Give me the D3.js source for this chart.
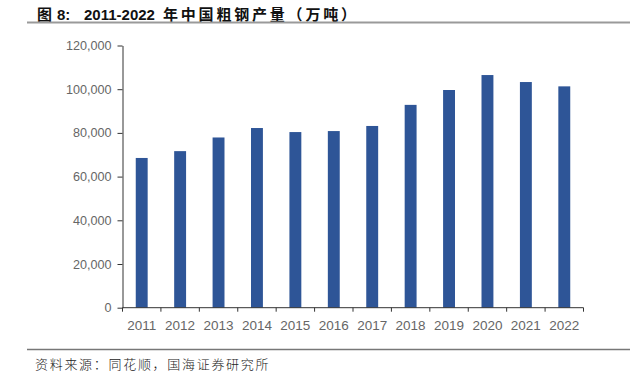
<!DOCTYPE html>
<html>
<head>
<meta charset="utf-8">
<script src="https://cdn.jsdelivr.net/npm/d3@7"></script>
<style>
  html, body { margin: 0; padding: 0; background: #fff; }
  svg { display: block; }
</style>
</head>
<body>
<div id="chart"></div>
<script>
// 2011-2022 crude steel output (10k tonnes)
const years = ["2011", "2012", "2013", "2014", "2015", "2016", "2017", "2018", "2019", "2020", "2021", "2022"];
const output = [68528, 71654, 77904, 82231, 80383, 80837, 83173, 92826, 99634, 106477, 103279, 101300];
const yTicks = [0, 20000, 40000, 60000, 80000, 100000, 120000];

const width = 634;
const height = 378;
const latin = "Arial, 'Liberation Sans', Helvetica, sans-serif";
const cjk = "'Noto Sans CJK SC', sans-serif";

const svg = d3.select("#chart")
  .append("svg")
  .attr("width", width)
  .attr("height", height);

// title + rule
const title = svg.append("text")
  .attr("y", 19.5)
  .attr("font-size", "15px")
  .attr("font-weight", "bold")
  .attr("fill", "#111");
title.append("tspan").attr("x", 37).attr("font-family", cjk).text("图");
title.append("tspan").attr("x", 57).attr("font-family", latin).text("8:");
title.append("tspan").attr("x", 84).attr("font-family", latin).text("2011-2022");
title.append("tspan").attr("x", 163).attr("font-family", cjk)
  .attr("letter-spacing", "2.8px")
  .text("年中国粗钢产量（万吨）");

svg.append("line")
  .attr("x1", 27).attr("x2", 630)
  .attr("y1", 22.5).attr("y2", 22.5)
  .attr("stroke", "#9a9a9a")
  .attr("stroke-width", 2);

const x = d3.scaleBand()
  .domain(years)
  .range([122.5, 583.5])
  .paddingInner(0.69)
  .paddingOuter(0.345);

const y = d3.scaleLinear()
  .domain([0, 120000])
  .range([307.7, 45.5]);

// bars
svg.append("g")
  .selectAll("rect")
  .data(years)
  .enter()
  .append("rect")
  .attr("x", (d) => x(d))
  .attr("y", (d, i) => y(output[i]))
  .attr("width", x.bandwidth())
  .attr("height", (d, i) => y(0) - y(output[i]))
  .attr("fill", "#2E5597");

// y axis
const yAxis = svg.append("g")
  .attr("transform", "translate(122.5,0)")
  .call(
    d3.axisLeft(y)
      .tickValues(yTicks)
      .tickFormat(d3.format(",d"))
      .tickSize(5)
      .tickSizeOuter(0)
      .tickPadding(6)
  );
yAxis.select(".domain").attr("stroke", "#333");
yAxis.selectAll(".tick line").attr("stroke", "#333");
yAxis.selectAll(".tick text")
  .attr("font-family", latin)
  .attr("font-size", "12.6px")
  .attr("fill", "#666");

// x axis: ticks sit on band edges
const xAxis = svg.append("g")
  .attr("transform", `translate(0,${y(0)})`);

xAxis.append("line")
  .attr("x1", 122.5).attr("x2", 583.5)
  .attr("y1", 0).attr("y2", 0)
  .attr("stroke", "#333");

const edges = years.map((d) => x(d) - x.step() * x.paddingInner() / 2);
edges.push(583.5);

xAxis.selectAll("line.edge")
  .data(edges)
  .enter()
  .append("line")
  .attr("class", "edge")
  .attr("x1", (d) => d).attr("x2", (d) => d)
  .attr("y1", 0).attr("y2", 4)
  .attr("stroke", "#333");

xAxis.selectAll("text")
  .data(years)
  .enter()
  .append("text")
  .attr("x", (d) => x(d) + x.bandwidth() / 2)
  .attr("y", 22.5)
  .attr("text-anchor", "middle")
  .attr("font-family", latin)
  .attr("font-size", "13.5px")
  .attr("fill", "#666")
  .text((d) => d);

// source note
svg.append("line")
  .attr("x1", 27).attr("x2", 630)
  .attr("y1", 349.5).attr("y2", 349.5)
  .attr("stroke", "#777")
  .attr("stroke-width", 1.5);

svg.append("text")
  .attr("x", 35)
  .attr("y", 368.5)
  .attr("font-family", cjk)
  .attr("font-size", "13px")
  .attr("font-weight", 300)
  .attr("letter-spacing", "1.7px")
  .attr("fill", "#222")
  .text("资料来源：同花顺，国海证券研究所");
</script>
</body>
</html>
